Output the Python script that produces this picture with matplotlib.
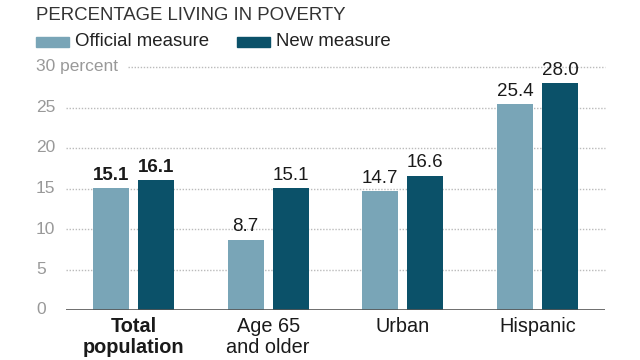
import matplotlib.pyplot as plt
import numpy as np

plt.rcParams['font.family'] = ['Liberation Sans', 'DejaVu Sans']

categories = ['Total\npopulation', 'Age 65\nand older', 'Urban', 'Hispanic']
official = [15.1, 8.7, 14.7, 25.4]
new = [16.1, 15.1, 16.6, 28.0]
ticks = [0, 5, 10, 15, 20, 25, 30]
tick_labels = ['0', '5', '10', '15', '20', '25', '30 percent']

c_off = '#79a5b7'
c_new = '#0b5169'

fig = plt.figure(figsize=(6.4, 3.6), dpi=100)
ax = fig.add_axes([66/640, 1 - 310/360, (605 - 66)/640, (310 - 67)/360])

x = np.arange(len(categories))
w = 0.268
off = 0.167
ax.bar(x - off, official, w, color=c_off, zorder=3)
ax.bar(x + off, new, w, color=c_new, zorder=3)

for i in range(len(categories)):
    wt = 'bold' if i == 0 else 'normal'
    ax.text(x[i] - off, official[i] + 0.5, f'{official[i]:.1f}', ha='center', va='bottom',
            fontsize=13.5, fontweight=wt, color='#1a1a1a', clip_on=False)
    ax.text(x[i] + off, new[i] + 0.5, f'{new[i]:.1f}', ha='center', va='bottom',
            fontsize=13.5, fontweight=wt, color='#1a1a1a', clip_on=False)

ax.set_xlim(-0.5, 3.5)
ax.set_ylim(0, 30)

# dotted gridlines
for t in ticks[1:]:
    xs = -0.5 if t < 30 else (128 - 66) / 134.5 - 0.5
    ax.plot([xs, 3.5], [t, t], color='#bbbbbb', lw=1.0, ls=(0, (1, 1.2)), zorder=1, clip_on=False)
ax.axhline(0, color='#555555', lw=1.2, zorder=4)

for sp in ax.spines.values():
    sp.set_visible(False)
ax.set_yticks([])
ax.set_xticks([])

for t, lab in zip(ticks, tick_labels):
    fig.text(36/640, 1 - (310 - t * 8.1)/360, lab, ha='left', va='center',
             fontsize=12.5, color='#999999')

for i, cat in enumerate(categories):
    wt = 'bold' if i == 0 else 'normal'
    ax.text(x[i], -0.9, cat, ha='center', va='top', fontsize=14.3, fontweight=wt,
            color='#1a1a1a', linespacing=1.1)

fig.text(36/640, 1 - 15/360, 'PERCENTAGE LIVING IN POVERTY', ha='left', va='center',
         fontsize=13.4, color='#333333')
fig.patches.append(plt.Rectangle((36/640, 1 - 47/360), 33/640, 10/360, color=c_off,
                                 transform=fig.transFigure))
fig.text(75/640, 1 - 42/360, 'Official measure', ha='left', va='center', fontsize=13.4, color='#222222')
fig.patches.append(plt.Rectangle((237/640, 1 - 47/360), 33/640, 10/360, color=c_new,
                                 transform=fig.transFigure))
fig.text(276/640, 1 - 42/360, 'New measure', ha='left', va='center', fontsize=13.4, color='#222222')

fig.savefig('out.png', dpi=100)
